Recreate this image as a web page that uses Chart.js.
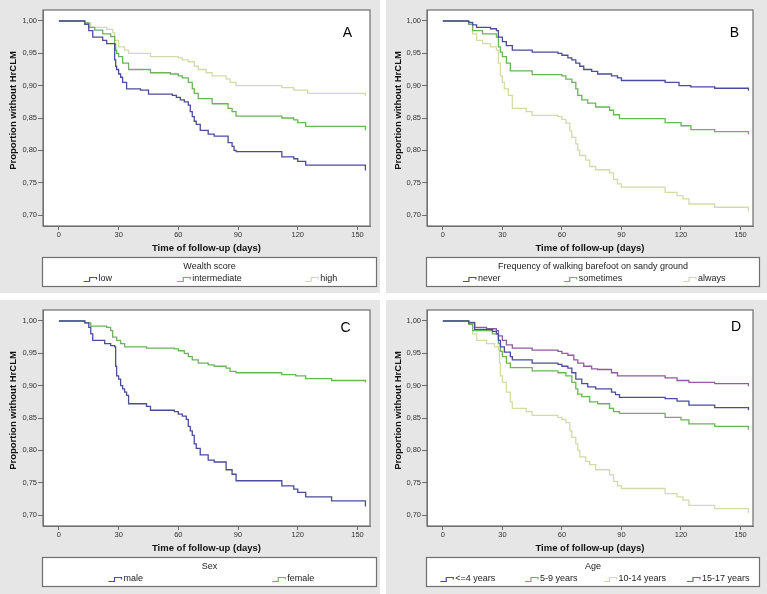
<!DOCTYPE html>
<html><head><meta charset="utf-8">
<script src="https://cdn.jsdelivr.net/npm/chart.js@4.4.0/dist/chart.umd.min.js"></script>
<style>
body{margin:0;background:#fff;width:767px;height:594px;position:relative;overflow:hidden}
.p{position:absolute;background:#e6e6e6}
canvas{display:block}
</style></head><body>
<div class="p" style="left:0;top:0;width:380px;height:293px"><canvas id="cA" width="380" height="293"></canvas></div>
<div class="p" style="left:386px;top:0;width:381px;height:293px"><canvas id="cB" width="381" height="293"></canvas></div>
<div class="p" style="left:0;top:300px;width:380px;height:294px"><canvas id="cC" width="380" height="294"></canvas></div>
<div class="p" style="left:386px;top:300px;width:381px;height:294px"><canvas id="cD" width="381" height="294"></canvas></div>
<script>
// ---- tick labels ----
const xTicks = [0, 30, 60, 90, 120, 150];
const yTicks = [0.70, 0.75, 0.80, 0.85, 0.90, 0.95, 1.00];
const yTickLabels = ['0,70', '0,75', '0,80', '0,85', '0,90', '0,95', '1,00'];
const xTitle = 'Time of follow-up (days)';
const yTitle = 'Proportion without HrCLM';

// ---- Panel A: Wealth score ----
const A_labels = ['low', 'intermediate', 'high'];
const A_low = [[0,1],[13,0.995],[15,0.985],[17,0.975],[22,0.97],[24,0.965],[28,0.94],[28.5,0.93],[29,0.925],[30,0.918],[31,0.913],[32,0.905],[34,0.895],[41,0.893],[45,0.887],[57,0.885],[59,0.882],[61,0.878],[63,0.875],[65,0.87],[66,0.86],[67,0.852],[68,0.845],[69,0.84],[71,0.831],[75,0.825],[78,0.822],[85,0.812],[87,0.806],[88,0.80],[89,0.798],[112,0.79],[118,0.787],[120,0.783],[124,0.777],[154,0.769]];
const A_mid = [[0,1],[13,0.997],[15,0.99],[18,0.986],[22,0.98],[26,0.976],[28,0.965],[28.5,0.955],[29,0.95],[30,0.945],[32,0.935],[35,0.925],[46,0.92],[56,0.918],[60,0.915],[62,0.912],[65,0.905],[67,0.895],[68,0.888],[70,0.88],[77,0.872],[85,0.865],[87,0.86],[89,0.853],[112,0.85],[118,0.847],[120,0.843],[124,0.837],[154,0.831]];
const A_high = [[0,1],[13,0.997],[16,0.99],[24,0.987],[27,0.982],[28,0.97],[30,0.96],[33,0.955],[35,0.95],[46,0.945],[60,0.943],[62,0.94],[65,0.937],[68,0.93],[70,0.925],[74,0.92],[77,0.915],[84,0.91],[86,0.905],[89,0.90],[112,0.897],[118,0.893],[125,0.888],[154,0.884]];

// ---- Panel B: walking barefoot ----
const B_labels = ['never', 'sometimes', 'always'];
const B_never = [[0,1],[13,0.998],[15,0.994],[17,0.99],[24,0.988],[27,0.985],[28,0.975],[30,0.968],[32,0.962],[35,0.955],[45,0.952],[58,0.95],[60,0.947],[63,0.943],[65,0.94],[67,0.935],[69,0.93],[71,0.925],[75,0.922],[78,0.918],[85,0.915],[88,0.912],[90,0.908],[112,0.905],[119,0.90],[125,0.898],[137,0.896],[154,0.892]];
const B_some = [[0,1],[13,0.995],[15,0.985],[20,0.98],[27,0.975],[28,0.96],[29,0.952],[30,0.945],[32,0.935],[34,0.923],[45,0.917],[60,0.915],[62,0.91],[65,0.905],[67,0.895],[68,0.885],[70,0.878],[73,0.873],[77,0.867],[84,0.862],[86,0.855],[89,0.849],[112,0.843],[120,0.838],[125,0.832],[137,0.829],[154,0.825]];
const B_always = [[0,1],[13,0.995],[15,0.98],[17,0.97],[20,0.965],[24,0.96],[27,0.955],[28,0.935],[29,0.915],[30,0.905],[31,0.895],[33,0.885],[35,0.865],[42,0.86],[45,0.854],[58,0.852],[60,0.848],[62,0.842],[64,0.83],[65,0.82],[67,0.81],[68,0.80],[69,0.792],[72,0.785],[74,0.775],[77,0.77],[84,0.765],[86,0.755],[88,0.748],[90,0.743],[112,0.735],[118,0.73],[121,0.725],[124,0.717],[137,0.712],[154,0.705]];

// ---- Panel C: Sex ----
const C_labels = ['male', 'female'];
const C_male = [[0,1],[13,0.997],[15,0.99],[16,0.98],[17,0.97],[23,0.965],[26,0.962],[28,0.96],[28.5,0.93],[29,0.915],[30,0.91],[31,0.90],[32,0.895],[33,0.89],[34,0.885],[35,0.872],[44,0.868],[46,0.862],[58,0.86],[60,0.856],[62,0.853],[64,0.848],[65,0.837],[66,0.83],[67,0.823],[68,0.81],[69,0.803],[71,0.793],[75,0.785],[78,0.782],[84,0.77],[87,0.763],[89,0.753],[112,0.745],[118,0.74],[120,0.735],[124,0.728],[137,0.722],[154,0.713]];
const C_female = [[0,1],[13,0.997],[16,0.992],[24,0.99],[26,0.985],[27,0.975],[29,0.97],[31,0.965],[33,0.96],[44,0.958],[58,0.957],[60,0.954],[63,0.95],[65,0.945],[67,0.94],[70,0.935],[75,0.932],[78,0.93],[84,0.927],[86,0.922],[89,0.92],[112,0.917],[119,0.915],[124,0.911],[137,0.908],[154,0.905]];

// ---- Panel D: Age ----
const D_labels = ['<=4 years', '5-9 years', '10-14 years', '15-17 years'];
const D_le4 = [[0,1],[13,0.997],[16,0.987],[25,0.984],[27,0.98],[28,0.97],[29,0.96],[31,0.952],[34,0.945],[35,0.94],[45,0.935],[58,0.933],[60,0.93],[63,0.927],[65,0.92],[67,0.91],[70,0.903],[73,0.898],[77,0.895],[85,0.89],[87,0.886],[89,0.882],[112,0.88],[118,0.876],[124,0.87],[137,0.866],[154,0.862]];
const D_5to9 = [[0,1],[13,0.995],[15,0.985],[25,0.98],[28,0.965],[29,0.953],[30,0.945],[32,0.935],[34,0.928],[45,0.923],[58,0.92],[62,0.915],[65,0.905],[67,0.895],[68,0.887],[70,0.883],[74,0.875],[78,0.872],[84,0.865],[86,0.86],[89,0.857],[112,0.851],[120,0.847],[124,0.841],[137,0.837],[154,0.832]];
const D_10to14 = [[0,1],[13,0.995],[15,0.98],[17,0.97],[22,0.965],[26,0.96],[28,0.955],[28.5,0.935],[29,0.915],[30,0.905],[32,0.89],[34,0.875],[35,0.865],[42,0.86],[45,0.854],[58,0.851],[60,0.848],[62,0.843],[64,0.83],[65,0.82],[67,0.81],[68,0.80],[69,0.79],[72,0.783],[74,0.778],[77,0.77],[84,0.762],[86,0.752],[88,0.745],[90,0.741],[112,0.733],[118,0.728],[121,0.723],[124,0.715],[137,0.71],[154,0.703]];
const D_15to17 = [[0,1],[13,0.998],[16,0.99],[22,0.988],[27,0.985],[28,0.977],[30,0.97],[32,0.963],[35,0.958],[45,0.955],[58,0.953],[60,0.95],[63,0.947],[66,0.94],[68,0.935],[71,0.93],[75,0.926],[78,0.925],[85,0.92],[88,0.915],[112,0.912],[118,0.908],[124,0.905],[137,0.903],[154,0.899]];

const BLUE = '#4b4c9a', GREEN = '#6cb35c', PALE = '#d3dbab', PURPLE = '#8d5d9c';
const FONT = "'Liberation Sans', Arial, sans-serif";
Chart.defaults.font.family = FONT;
Chart.defaults.animation = false;

const panels = [
  {id:'cA', W:380, H:293, yW:43, padR:10, legL:42, legR:377, letter:'A', lx:347.5, ly:33.5, ytx:13,
   legendTitle:'Wealth score', labels:A_labels, series:[A_low, A_mid, A_high], colors:[BLUE, GREEN, PALE]},
  {id:'cB', W:381, H:293, yW:41, padR:14, legL:40, legR:374, letter:'B', lx:348.5, ly:33, ytx:12,
   legendTitle:'Frequency of walking barefoot on sandy ground', labels:B_labels, series:[B_never, B_some, B_always], colors:[BLUE, GREEN, PALE]},
  {id:'cC', W:380, H:294, yW:43, padR:10, legL:42, legR:377, letter:'C', lx:345.5, ly:28.5, ytx:13,
   legendTitle:'Sex', labels:C_labels, series:[C_male, C_female], colors:[BLUE, GREEN]},
  {id:'cD', W:381, H:294, yW:41, padR:14, legL:40, legR:374, letter:'D', lx:350, ly:27, ytx:12,
   legendTitle:'Age', labels:D_labels, series:[D_le4, D_5to9, D_10to14, D_15to17], colors:[BLUE, GREEN, PALE, PURPLE]}
];

function makeDeco(p) {
  return {
    id: 'deco' + p.letter,
    beforeDraw(chart) {
      const {ctx, chartArea: a} = chart;
      ctx.save();
      ctx.fillStyle = '#ffffff';
      ctx.fillRect(a.left, a.top, a.right - a.left, a.bottom - a.top);
      ctx.restore();
    },
    afterDatasetsDraw(chart) {
      const {ctx, chartArea: a} = chart;
      ctx.save();
      ctx.strokeStyle = '#6e6e6e';
      ctx.lineWidth = 1.2;
      ctx.strokeRect(a.left, a.top, a.right - a.left, a.bottom - a.top);
      ctx.fillStyle = '#000';
      ctx.font = '14px ' + FONT;
      ctx.textAlign = 'center';
      ctx.textBaseline = 'middle';
      ctx.fillText(p.letter, p.lx, p.ly);
      ctx.restore();
    },
    afterDraw(chart) {
      const {ctx} = chart;
      ctx.save();
      ctx.translate(p.ytx, 110.5);
      ctx.rotate(-Math.PI / 2);
      ctx.fillStyle = '#111';
      ctx.font = 'bold 9.5px ' + FONT;
      ctx.textAlign = 'center';
      ctx.textBaseline = 'middle';
      ctx.fillText(yTitle, 0, 0);
      ctx.restore();

      const L = p.legL, R = p.legR, T = 257, B = 287;
      ctx.save();
      ctx.fillStyle = '#ffffff';
      ctx.fillRect(L, T, R - L, B - T);
      ctx.strokeStyle = '#6e6e6e';
      ctx.lineWidth = 1.2;
      ctx.strokeRect(L + 0.5, T + 0.5, R - L - 1, B - T - 1);
      ctx.fillStyle = '#222';
      ctx.font = '9px ' + FONT;
      ctx.textAlign = 'center';
      ctx.textBaseline = 'middle';
      ctx.fillText(p.legendTitle, (L + R) / 2, T + 10);
      const ds = chart.data.datasets;
      const n = ds.length;
      const colW = (R - L) / n;
      const yc = T + 22;
      ctx.textAlign = 'left';
      ds.forEach((d, i) => {
        const tw = ctx.measureText(d.label).width;
        const w = 15 + tw;
        const x0 = L + (i + 0.5) * colW - w / 2;
        ctx.strokeStyle = d.borderColor;
        ctx.lineWidth = 1.2;
        ctx.beginPath();
        ctx.moveTo(x0, yc + 2.5);
        ctx.lineTo(x0 + 6, yc + 2.5);
        ctx.lineTo(x0 + 6, yc - 1.5);
        ctx.lineTo(x0 + 13, yc - 1.5);
        ctx.lineTo(x0 + 13, yc + 0.5);
        ctx.stroke();
        ctx.fillStyle = '#222';
        ctx.fillText(d.label, x0 + 15, yc);
      });
      ctx.restore();
    }
  };
}

panels.forEach(p => {
  const datasets = p.series.map((s, i) => ({
    label: p.labels[i],
    data: s.map(([x, y]) => ({x, y})),
    borderColor: p.colors[i],
    backgroundColor: p.colors[i],
    borderWidth: 1.3,
    pointRadius: 0,
    stepped: 'before',
    fill: false
  }));
  new Chart(document.getElementById(p.id), {
    type: 'line',
    data: {datasets},
    options: {
      responsive: false,
      animation: false,
      devicePixelRatio: 1,
      layout: {padding: {left: 0, right: p.padR, top: 10, bottom: p.H - 256}},
      plugins: {legend: {display: false}, tooltip: {enabled: false}, title: {display: false}},
      scales: {
        x: {
          type: 'linear', min: -8, max: 156.3,
          afterBuildTicks: s => { s.ticks = xTicks.map(v => ({value: v})); },
          afterFit: s => { s.height = 30; },
          ticks: {font: {size: 7.5}, color: '#333', padding: 0, maxRotation: 0, autoSkip: false,
                  callback: v => String(v)},
          grid: {display: true, drawOnChartArea: false, drawTicks: true, tickLength: 4, color: '#6e6e6e'},
          border: {display: true, color: '#6e6e6e'},
          title: {display: true, text: xTitle, color: '#111', font: {size: 9.5, weight: 'bold'},
                  padding: {top: 0, bottom: 2.3}}
        },
        y: {
          type: 'linear', min: 0.683, max: 1.017,
          afterBuildTicks: s => { s.ticks = yTicks.map(v => ({value: v})); },
          afterFit: s => { s.width = p.yW; },
          ticks: {font: {size: 7.5}, color: '#333', padding: 1, autoSkip: false,
                  callback: (v, i) => yTickLabels[i]},
          grid: {display: true, drawOnChartArea: false, drawTicks: true, tickLength: 5, color: '#6e6e6e'},
          border: {display: true, color: '#6e6e6e'}
        }
      }
    },
    plugins: [makeDeco(p)]
  });
});
</script>
</body></html>
